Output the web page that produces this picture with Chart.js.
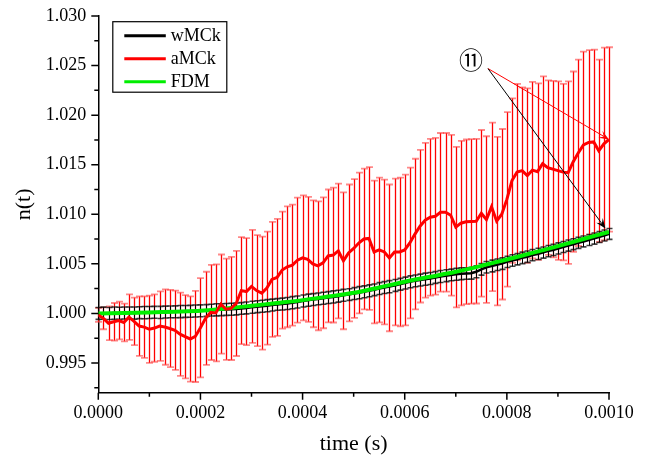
<!DOCTYPE html>
<html>
<head>
<meta charset="utf-8">
<script src="https://cdn.jsdelivr.net/npm/chart.js@4.4.1/dist/chart.umd.min.js"></script>
<style>
  html, body { margin: 0; padding: 0; background: #fff; }
</style>
</head>
<body>
<canvas id="chart" width="647" height="462"></canvas>
<script>
// ── DATA ──────────────────────────────────────────────────────────
// sample grid: 101 samples, 1e-5 s apart
const T_STEP = 0.00001;
const TIME = Array.from({ length: 101 }, (_, i) => +(i * T_STEP).toFixed(5));

const AMCK = [
  0.99985, 0.99950, 0.99900, 0.99915, 0.99928, 0.99908, 0.99962, 0.99920, 0.99872, 0.99862,
  0.99840, 0.99852, 0.99872, 0.99862, 0.99848, 0.99830, 0.99790, 0.99765, 0.99742, 0.99768,
  0.99855, 0.99950, 1.00010, 1.00005, 1.00094, 1.00042, 1.00050, 1.00100, 1.00230, 1.00220,
  1.00272, 1.00230, 1.00205, 1.00255, 1.00343, 1.00363, 1.00437, 1.00470, 1.00487, 1.00537,
  1.00560, 1.00545, 1.00500, 1.00480, 1.00510, 1.00580, 1.00588, 1.00630, 1.00530, 1.00610,
  1.00655, 1.00710, 1.00750, 1.00756, 1.00620, 1.00640, 1.00620, 1.00560, 1.00620, 1.00620,
  1.00640, 1.00710, 1.00800, 1.00880, 1.00940, 1.00970, 1.00980, 1.01020, 1.01020, 1.00990,
  1.00870, 1.00910, 1.00924, 1.00928, 1.00930, 1.01010, 1.00947, 1.01075, 1.00930, 1.01000,
  1.01150, 1.01340, 1.01425, 1.01440, 1.01390, 1.01445, 1.01430, 1.01510, 1.01470, 1.01455,
  1.01440, 1.01425, 1.01420, 1.01530, 1.01620, 1.01700, 1.01725, 1.01730, 1.01640, 1.01710,
  1.01755
];

const AMCK_ERR = [
  0.0007, 0.0011, 0.0017, 0.0019, 0.0019, 0.0019, 0.0023, 0.0024, 0.0030, 0.0031,
  0.0034, 0.0034, 0.0035, 0.0038, 0.0039, 0.0040, 0.0042, 0.0042, 0.0043, 0.0046,
  0.0050, 0.0047, 0.0048, 0.0049, 0.0050, 0.0051, 0.0052, 0.0053, 0.0054, 0.0054,
  0.0057, 0.0056, 0.0057, 0.0057, 0.0058, 0.0059, 0.0059, 0.0061, 0.0061, 0.0063,
  0.0063, 0.0063, 0.0064, 0.0065, 0.0066, 0.0067, 0.0068, 0.0068, 0.0069, 0.0069,
  0.0070, 0.0071, 0.0071, 0.0072, 0.0072, 0.0073, 0.0073, 0.0074, 0.0074, 0.0075,
  0.0076, 0.0076, 0.0076, 0.0077, 0.0078, 0.0079, 0.0079, 0.0080, 0.0080, 0.0081,
  0.0081, 0.0083, 0.0083, 0.0083, 0.0083, 0.0084, 0.0084, 0.0085, 0.0085, 0.0086,
  0.0088, 0.0083, 0.0089, 0.0084, 0.0088, 0.0089, 0.0089, 0.0088, 0.0088, 0.0089,
  0.0090, 0.0089, 0.0092, 0.0091, 0.0094, 0.0094, 0.0093, 0.0093, 0.0092, 0.0097,
  0.0093
];

const WMCK = [
  1.00000, 1.00002, 0.99999, 1.00003, 1.00001, 1.00004, 1.00005, 1.00003, 1.00007, 1.00008,
  1.00009, 1.00011, 1.00010, 1.00013, 1.00015, 1.00016, 1.00018, 1.00020, 1.00021, 1.00024,
  1.00026, 1.00029, 1.00033, 1.00036, 1.00038, 1.00040, 1.00042, 1.00045, 1.00050, 1.00055,
  1.00062, 1.00068, 1.00072, 1.00078, 1.00084, 1.00090, 1.00094, 1.00100, 1.00108, 1.00115,
  1.00125, 1.00133, 1.00139, 1.00146, 1.00153, 1.00160, 1.00166, 1.00174, 1.00182, 1.00190,
  1.00200, 1.00209, 1.00218, 1.00228, 1.00238, 1.00250, 1.00260, 1.00270, 1.00282, 1.00294,
  1.00306, 1.00318, 1.00328, 1.00336, 1.00345, 1.00352, 1.00362, 1.00372, 1.00380, 1.00388,
  1.00395, 1.00400, 1.00402, 1.00405, 1.00420, 1.00445, 1.00465, 1.00478, 1.00490, 1.00502,
  1.00520, 1.00533, 1.00546, 1.00560, 1.00572, 1.00588, 1.00600, 1.00614, 1.00628, 1.00640,
  1.00655, 1.00670, 1.00684, 1.00698, 1.00712, 1.00726, 1.00740, 1.00755, 1.00770, 1.00786,
  1.00802
];

const WMCK_ERR = [
  0.00060, 0.00061, 0.00060, 0.00062, 0.00061, 0.00060, 0.00059, 0.00061, 0.00060, 0.00062,
  0.00061, 0.00060, 0.00061, 0.00060, 0.00059, 0.00060, 0.00061, 0.00060, 0.00060, 0.00061,
  0.00060, 0.00059, 0.00060, 0.00061, 0.00060, 0.00060, 0.00061, 0.00060, 0.00059, 0.00060,
  0.00061, 0.00060, 0.00060, 0.00061, 0.00060, 0.00059, 0.00060, 0.00060, 0.00061, 0.00060,
  0.00060, 0.00061, 0.00060, 0.00059, 0.00060, 0.00060, 0.00061, 0.00060, 0.00060, 0.00059,
  0.00060, 0.00061, 0.00060, 0.00060, 0.00059, 0.00060, 0.00060, 0.00061, 0.00060, 0.00059,
  0.00060, 0.00060, 0.00059, 0.00060, 0.00061, 0.00060, 0.00059, 0.00060, 0.00060, 0.00059,
  0.00060, 0.00059, 0.00058, 0.00059, 0.00060, 0.00059, 0.00058, 0.00059, 0.00058, 0.00058,
  0.00057, 0.00058, 0.00057, 0.00058, 0.00057, 0.00056, 0.00057, 0.00056, 0.00057, 0.00056,
  0.00056, 0.00055, 0.00056, 0.00055, 0.00056, 0.00055, 0.00055, 0.00056, 0.00055, 0.00055,
  0.00055
];

const FDM_T = [
  0, 0.00005, 0.0001, 0.00015, 0.0002, 0.00025, 0.0003, 0.00035, 0.0004, 0.00045, 0.0005,
  0.00055, 0.0006, 0.00065, 0.0007, 0.00075, 0.0008, 0.00085, 0.0009, 0.00095, 0.001
];
const FDM = [
  1.00000, 1.00003, 1.00010, 1.00017, 1.00026, 1.00050, 1.00077, 1.00105, 1.00134, 1.00170, 1.00208,
  1.00262, 1.00320, 1.00370, 1.00420, 1.00480, 1.00544, 1.00610, 1.00678, 1.00750, 1.00823
];

const SERIES_LABELS = ['wMCk', 'aMCk', 'FDM'];
const SERIES_COLORS = ['#000000', '#ff0000', '#00ee00'];

const X_MAJOR = [0, 0.0002, 0.0004, 0.0006, 0.0008, 0.001];
const X_MINOR = [0.0001, 0.0003, 0.0005, 0.0007, 0.0009];
const Y_MAJOR = [0.995, 1.000, 1.005, 1.010, 1.015, 1.020, 1.025, 1.030];
const Y_MINOR = [0.9925, 0.9975, 1.0025, 1.0075, 1.0125, 1.0175, 1.0225, 1.0275];

// annotation "⑪": label and arrow anchors in data units
const NOTE_TEXT = '\u246A';
const NOTE_AT = { x: 0.00073, y: 1.02553 };
const NOTE_FROM = { x: 0.000763, y: 1.0247 };
const NOTE_TO_RED = { x: 0.001, y: AMCK[AMCK.length - 1] };
const NOTE_TO_BLACK = { x: 0.000993, y: 1.00857 };

// ── HELPERS ───────────────────────────────────────────────────────
const isIn = (list, v) => list.some(m => Math.abs(m - v) < 1e-9);
const toPoints = (xs, ys) => xs.map((x, i) => ({ x, y: ys[i] }));

function drawErrorBars(chart, ys, errs, opt) {
  const { ctx, scales: { x, y } } = chart;
  ctx.save();
  TIME.forEach((t, i) => {
    const px = Math.round(x.getPixelForValue(t)) + 0.5;
    const top = y.getPixelForValue(ys[i] + errs[i]);
    const bot = y.getPixelForValue(ys[i] - errs[i]);
    ctx.strokeStyle = opt.bar;
    ctx.lineWidth = opt.barWidth;
    ctx.beginPath();
    ctx.moveTo(px, top);
    ctx.lineTo(px, bot);
    ctx.stroke();
    ctx.strokeStyle = opt.cap;
    ctx.lineWidth = opt.capWidth;
    ctx.beginPath();
    ctx.moveTo(px - opt.capHalf, top);
    ctx.lineTo(px + opt.capHalf, top);
    ctx.moveTo(px - opt.capHalf, bot);
    ctx.lineTo(px + opt.capHalf, bot);
    ctx.stroke();
  });
  ctx.restore();
}

function drawArrow(ctx, x0, y0, x1, y1, color) {
  const ang = Math.atan2(y1 - y0, x1 - x0);
  const len = 10, wid = 4;
  ctx.save();
  ctx.strokeStyle = color;
  ctx.fillStyle = color;
  ctx.lineWidth = 1;
  ctx.beginPath();
  ctx.moveTo(x0, y0);
  ctx.lineTo(x1 - Math.cos(ang) * len * 0.6, y1 - Math.sin(ang) * len * 0.6);
  ctx.stroke();
  ctx.translate(x1, y1);
  ctx.rotate(ang);
  ctx.beginPath();
  ctx.moveTo(0, 0);
  ctx.lineTo(-len, -wid);
  ctx.lineTo(-len * 0.6, 0);
  ctx.lineTo(-len, wid);
  ctx.closePath();
  ctx.fill();
  ctx.restore();
}

// ── PLUGINS ───────────────────────────────────────────────────────
const errorBarPlugin = {
  id: 'errorBars',
  beforeDatasetsDraw(chart) {
    drawErrorBars(chart, AMCK, AMCK_ERR, {
      bar: '#ff0000', barWidth: 1.3, cap: 'rgba(255,60,60,0.6)', capWidth: 1.8, capHalf: 3.5,
    });
    drawErrorBars(chart, WMCK, WMCK_ERR, {
      bar: '#000000', barWidth: 1, cap: 'rgba(0,0,0,0.75)', capWidth: 1.6, capHalf: 3,
    });
  }
};

const tickPlugin = {
  id: 'minorTicks',
  afterDraw(chart) {
    const { ctx, scales: { x, y } } = chart;
    ctx.save();
    ctx.strokeStyle = '#000';
    ctx.lineWidth = 1.5;
    ctx.beginPath();
    x.ticks.forEach(tk => {
      const px = x.getPixelForValue(tk.value);
      const len = isIn(X_MAJOR, tk.value) ? 7 : 4;
      ctx.moveTo(px, x.top);
      ctx.lineTo(px, x.top + len);
    });
    y.ticks.forEach(tk => {
      const py = y.getPixelForValue(tk.value);
      const len = isIn(Y_MAJOR, tk.value) ? 7 : 4;
      ctx.moveTo(y.right, py);
      ctx.lineTo(y.right - len, py);
    });
    ctx.stroke();
    ctx.restore();
  }
};

const legendPlugin = {
  id: 'boxLegend',
  afterDraw(chart) {
    const { ctx, chartArea: area } = chart;
    const left = area.left + 14.5, top = area.top + 5.7;
    ctx.save();
    ctx.strokeStyle = '#000';
    ctx.lineWidth = 1.2;
    ctx.strokeRect(left, top, 114, 70.5);
    ctx.font = "18px 'Liberation Serif', serif";
    ctx.fillStyle = '#000';
    ctx.textBaseline = 'middle';
    SERIES_LABELS.forEach((lab, i) => {
      const ly = top + 14 + i * 23;
      ctx.strokeStyle = SERIES_COLORS[i];
      ctx.lineWidth = 3;
      ctx.beginPath();
      ctx.moveTo(left + 11.5, ly);
      ctx.lineTo(left + 53, ly);
      ctx.stroke();
      ctx.fillText(lab, left + 58, ly + 1);
    });
    ctx.restore();
  }
};

const notePlugin = {
  id: 'note',
  afterDatasetsDraw(chart) {
    const { ctx, scales: { x, y } } = chart;
    const px = p => [x.getPixelForValue(p.x), y.getPixelForValue(p.y)];
    const [fx, fy] = px(NOTE_FROM);
    const [rx, ry] = px(NOTE_TO_RED);
    const [bx, by] = px(NOTE_TO_BLACK);
    drawArrow(ctx, fx, fy, rx, ry, '#ff0000');
    drawArrow(ctx, fx, fy, bx, by, '#000000');
    const [nx, ny] = px(NOTE_AT);
    ctx.save();
    ctx.font = "24px 'Noto Sans CJK JP', 'DejaVu Sans', sans-serif";
    ctx.fillStyle = '#000';
    ctx.textAlign = 'center';
    ctx.textBaseline = 'middle';
    ctx.fillText(NOTE_TEXT, nx, ny);
    ctx.restore();
  }
};

// ── CHART ─────────────────────────────────────────────────────────
Chart.defaults.font.family = "'Liberation Serif', 'Times New Roman', serif";
Chart.defaults.font.size = 18;
Chart.defaults.color = '#000';

new Chart(document.getElementById('chart'), {
  type: 'line',
  data: {
    datasets: [
      {
        label: SERIES_LABELS[1],
        data: toPoints(TIME, AMCK),
        borderColor: SERIES_COLORS[1],
        borderWidth: 3,
        pointRadius: 0,
        tension: 0,
        order: 0,
      },
      {
        label: SERIES_LABELS[2],
        data: toPoints(FDM_T, FDM),
        borderColor: SERIES_COLORS[2],
        borderWidth: 4,
        pointRadius: 0,
        tension: 0.3,
        order: 1,
      },
      {
        label: SERIES_LABELS[0],
        data: toPoints(TIME, WMCK),
        borderColor: SERIES_COLORS[0],
        borderWidth: 2.5,
        pointRadius: 0,
        tension: 0,
        order: 2,
      },
    ]
  },
  options: {
    responsive: false,
    animation: false,
    layout: { padding: { top: 16, right: 38, left: 0, bottom: 0 } },
    plugins: {
      legend: { display: false },
      tooltip: { enabled: false },
    },
    scales: {
      x: {
        type: 'linear',
        min: 0,
        max: 0.001,
        afterBuildTicks: (s) => { s.ticks = [...X_MAJOR, ...X_MINOR].sort((a, b) => a - b).map(v => ({ value: v })); },
        afterFit: (s) => { s.height = 69.3; s.paddingLeft = 0; s.paddingRight = 0; },
        grid: { display: false, drawTicks: false },
        border: { display: true, color: '#000', width: 1.5 },
        ticks: {
          padding: 10,
          maxRotation: 0,
          autoSkip: false,
          callback: (v) => isIn(X_MAJOR, v) ? v.toFixed(4) : '',
        },
        title: {
          display: true,
          text: 'time (s)',
          font: { size: 22 },
          padding: { top: 0, bottom: 5 },
        },
      },
      y: {
        type: 'linear',
        min: 0.992,
        max: 1.030,
        afterBuildTicks: (s) => { s.ticks = [...Y_MAJOR, ...Y_MINOR].sort((a, b) => a - b).map(v => ({ value: v })); },
        afterFit: (s) => { s.width = 98.3; s.paddingTop = 0; s.paddingBottom = 0; },
        grid: { display: false, drawTicks: false },
        border: { display: true, color: '#000', width: 1.5 },
        ticks: {
          padding: 12,
          autoSkip: false,
          callback: (v) => isIn(Y_MAJOR, v) ? v.toFixed(3) : '',
        },
        title: {
          display: true,
          text: 'n(t)',
          font: { size: 22 },
          padding: { top: 11, bottom: 0 },
        },
      },
    },
  },
  plugins: [errorBarPlugin, tickPlugin, legendPlugin, notePlugin],
});
</script>
</body>
</html>
